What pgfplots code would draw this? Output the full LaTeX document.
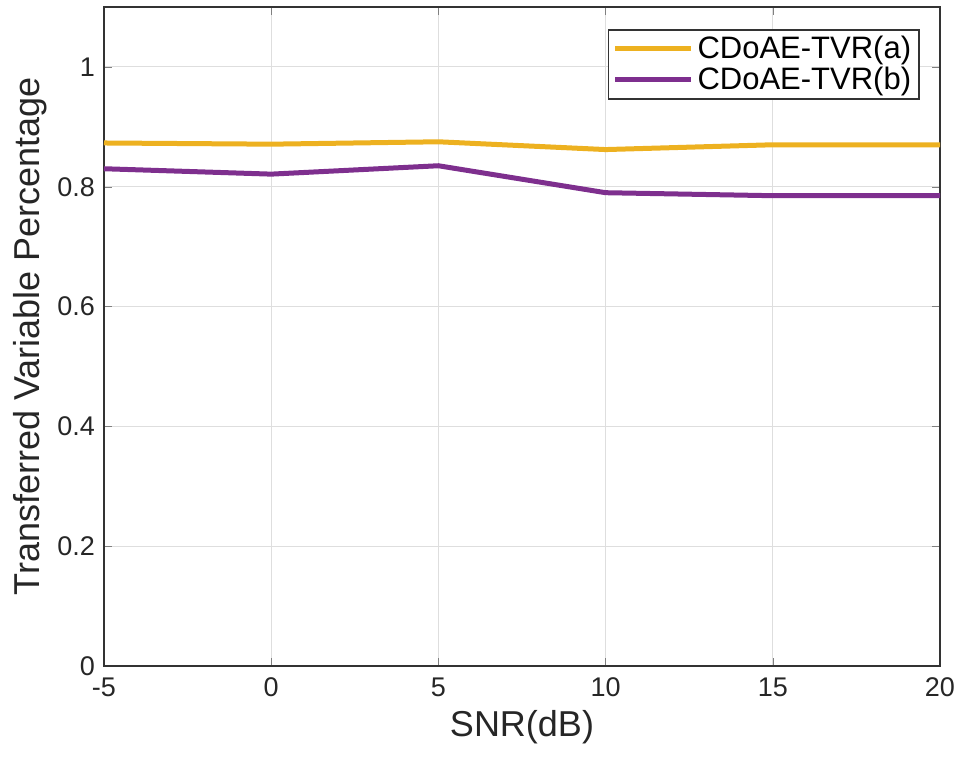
\documentclass[border=0pt]{standalone}
\usepackage{fontspec}
\setmainfont{Liberation Sans}
\usepackage{pgfplots}
\pgfplotsset{compat=1.18}
\definecolor{myyellow}{rgb}{0.929,0.694,0.125}
\definecolor{mypurple}{rgb}{0.494,0.184,0.556}
\begin{document}
\begin{tikzpicture}
\begin{axis}[
  name=ax,
  scale only axis,
  width=418pt, height=329.5pt,
  xmin=-5, xmax=20, ymin=0, ymax=1.1,
  xtick={-5,0,5,10,15,20},
  ytick={0,0.2,0.4,0.6,0.8,1},
  yticklabels={0,0.2,0.4,0.6,0.8,1},
  /pgf/number format/assume math mode=true,
  tick label style={font=\fontsize{13.5}{15}\selectfont, color=black!85},
  xticklabel style={yshift=-2.5pt},
  yticklabel style={xshift=-1pt},
  tick align=inside,
  tick pos=both,
  major tick length=4pt,
  grid=major,
  grid style={color=black!13, line width=0.5pt},
  axis line style={line width=0.8pt, color=black!80},
  xlabel={SNR(dB)},
  ylabel={Transferred Variable Percentage},
  label style={font=\fontsize{18}{21}\selectfont, color=black!85},
  xlabel style={at={(axis description cs:0.5,-0.0926)}, anchor=center},
  ylabel style={at={(axis description cs:-0.0885,0.5)}, anchor=center},
  legend style={at={(0.976,0.9666)}, anchor=north east,
    font=\fontsize{15.5}{18}\selectfont, draw=black!80, line width=0.8pt,
    inner xsep=2pt, inner ysep=1pt, row sep=-1pt},
  legend cell align=left,
  legend image code/.code={\draw[#1, line width=2.5pt] (0pt,0pt) -- (38pt,0pt);},
]
\addplot[color=myyellow, line width=2.5pt] coordinates {
  (-5,0.873) (0,0.871) (5,0.875) (10,0.862) (15,0.870) (20,0.870)};
\addlegendentry{CDoAE-TVR(a)}
\addplot[color=mypurple, line width=2.5pt] coordinates {
  (-5,0.830) (0,0.821) (5,0.835) (10,0.790) (15,0.785) (20,0.785)};
\addlegendentry{CDoAE-TVR(b)}
\end{axis}
\pgfresetboundingbox
\path[use as bounding box] ([xshift=-52pt,yshift=-46pt]ax.south west) rectangle ([xshift=10pt,yshift=3.5pt]ax.north east);
\end{tikzpicture}
\end{document}
